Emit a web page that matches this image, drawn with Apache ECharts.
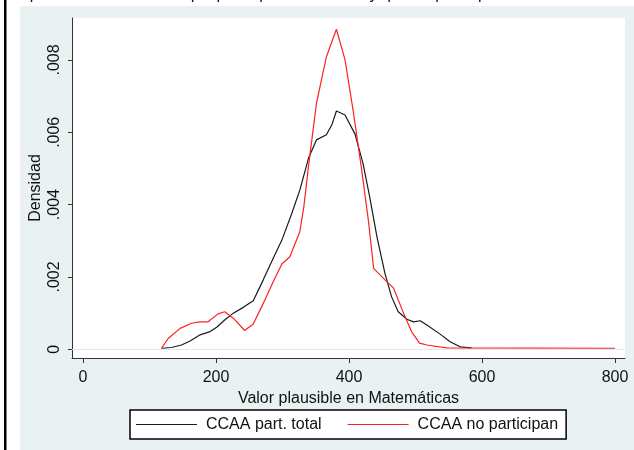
<!DOCTYPE html>
<html>
<head>
<meta charset="utf-8">
<script src="https://cdn.jsdelivr.net/npm/echarts@6/dist/echarts.min.js"></script>
<style>
html,body{margin:0;padding:0;background:#fff;}
#chart{width:634px;height:450px;}
</style>
</head>
<body>
<div id="chart"></div>
<script>
// Data
const seriesNames = ['CCAA part. total', 'CCAA no participan'];
const xBlack = [118,133,148,161,176,191,201,213,226,241,256,271,286,299,314,326,339,351,366,374,381,394,409,421,431,442,454,464,474,487,497,507,517,537,552,567,584];
const yBlack = [0.00003,0.00005,0.00012,0.00023,0.0004,0.00049,0.00061,0.00081,0.001,0.00116,0.00134,0.00192,0.00252,0.00302,0.00376,0.0044,0.00528,0.00579,0.00593,0.0062,0.00659,0.00648,0.00595,0.00514,0.00422,0.00311,0.0021,0.00145,0.00104,0.00083,0.00076,0.00079,0.00067,0.00042,0.00021,0.00007,0.00004];
const xRed = [118,128,146,163,176,188,203,213,226,243,256,271,286,299,311,326,332,339,351,366,381,394,406,419,429,437,454,467,482,494,506,517,547,800];
const yRed = [0.00003,0.0003,0.00058,0.00072,0.00076,0.00076,0.00098,0.00104,0.00086,0.00052,0.0007,0.00127,0.00187,0.00236,0.00256,0.00325,0.00394,0.00505,0.0068,0.00809,0.00885,0.008,0.00662,0.00496,0.00358,0.00224,0.00192,0.00169,0.001,0.00049,0.00017,0.00012,0.00004,0.00003];
const xTicks = [0,200,400,600,800];
const xTickLabels = ['0','200','400','600','800'];
const yTicks = [0,0.002,0.004,0.006,0.008];
const yTickLabels = ['0','.002','.004','.006','.008'];
const xTitle = 'Valor plausible en Matemáticas';
const yTitle = 'Densidad';
const topText = 'Comparación entre CCAA que participan totalmente y que no participan';

const font = 'Liberation Sans, Arial, sans-serif';
const txt = '#111';
const pair = (xs, ys) => xs.map((x, i) => [x, ys[i]]);

const chart = echarts.init(document.getElementById('chart'), null, {renderer: 'canvas'});
chart.setOption({
  animation: false,
  backgroundColor: '#ffffff',
  graphic: [
    {type: 'rect', z: -100, shape: {x: 20, y: 6, width: 614, height: 444}, style: {fill: '#eaf1f3'}, silent: true},
    {type: 'rect', z: -100, shape: {x: 4, y: 0, width: 2.5, height: 450}, style: {fill: '#000'}, silent: true},
    {type: 'text', z: -100, x: -4, y: 3, style: {text: topText, font: '16px ' + font, fill: txt, verticalAlign: 'bottom'}, silent: true}
  ],
  grid: {left: 72, right: 9, top: 18, bottom: 92, show: true, backgroundColor: '#ffffff', borderWidth: 0},
  xAxis: {
    type: 'value', min: -16.6, max: 815,
    name: xTitle, nameLocation: 'middle', nameGap: 30,
    nameTextStyle: {fontFamily: font, fontSize: 16, color: txt},
    axisLine: {show: true, onZero: false, lineStyle: {color: '#333', width: 1}},
    axisTick: {show: true, length: 5, lineStyle: {color: '#333'}, customValues: xTicks},
    axisLabel: {fontFamily: font, fontSize: 16, color: txt, margin: 12, customValues: xTicks,
      formatter: v => xTickLabels[xTicks.indexOf(v)] ?? ''},
    splitLine: {show: false}
  },
  yAxis: {
    type: 'value', min: -0.00024, max: 0.00916,
    name: yTitle, nameLocation: 'middle', nameGap: 28, nameMoveOverlap: false,
    nameTextStyle: {fontFamily: font, fontSize: 16, color: txt},
    axisLine: {show: true, onZero: false, lineStyle: {color: '#333', width: 1}},
    axisTick: {show: true, length: 4, lineStyle: {color: '#333'}, customValues: yTicks},
    axisLabel: {fontFamily: font, fontSize: 16, color: txt, margin: 9, rotate: 90, customValues: yTicks,
      formatter: v => { const i = yTicks.findIndex(t => Math.abs(t - v) < 1e-9); return i >= 0 ? yTickLabels[i] : ''; }},
    splitLine: {show: false}
  },
  legend: {
    left: 130, top: 410,
    padding: [6.5, 8, 6.5, 6],
    icon: 'rect',
    itemWidth: 61, itemHeight: 1.2, itemGap: 26,
    backgroundColor: '#ffffff', borderColor: '#000', borderWidth: 1.5, borderRadius: 0,
    textStyle: {fontFamily: font, fontSize: 16, color: txt, padding: [0, 0, 0, 4]},
    data: seriesNames
  },
  series: [
    {
      name: seriesNames[0], type: 'line', data: pair(xBlack, yBlack),
      symbol: 'none', showSymbol: false, smooth: false,
      lineStyle: {color: '#1a1a1a', width: 1.2}, itemStyle: {color: '#1a1a1a'},
      markLine: {
        silent: true, symbol: ['none', 'none'], label: {show: false},
        lineStyle: {color: '#dfe9ed', width: 1, type: 'solid'},
        data: yTicks.map(v => ({yAxis: v}))
      },
      z: 3
    },
    {
      name: seriesNames[1], type: 'line', data: pair(xRed, yRed),
      symbol: 'none', showSymbol: false, smooth: false,
      lineStyle: {color: '#ff2020', width: 1.2}, itemStyle: {color: '#ff2020'},
      z: 4
    }
  ]
});
</script>
</body>
</html>
